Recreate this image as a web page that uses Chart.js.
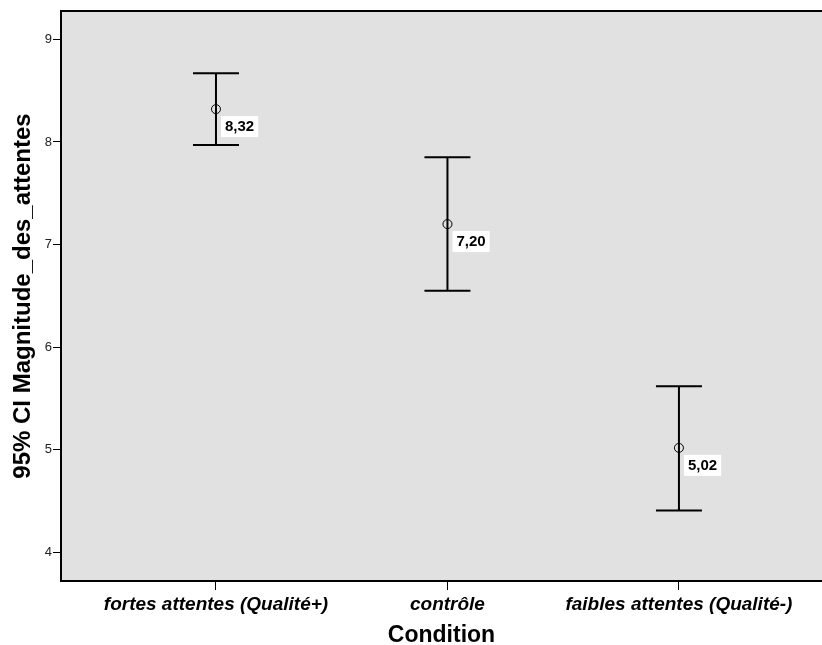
<!DOCTYPE html>
<html>
<head>
<meta charset="utf-8">
<script src="https://cdn.jsdelivr.net/npm/chart.js@4/dist/chart.umd.min.js"></script>
<style>
  html, body { margin: 0; padding: 0; background: #fff; overflow: hidden; }
</style>
</head>
<body>
<canvas id="ciChart" width="822" height="645"></canvas>
<script>
// data
const categories = ['fortes attentes (Qualité+)', 'contrôle', 'faibles attentes (Qualité-)'];
const means = [8.32, 7.20, 5.02];
const lowerCI = [7.97, 6.55, 4.41];
const upperCI = [8.67, 7.85, 5.62];
const meanLabels = ['8,32', '7,20', '5,02'];
const yTicks = [4, 5, 6, 7, 8, 9];

const FONT = '"Liberation Sans", Arial, sans-serif';

// grey plot background + top frame line
const frame = {
  id: 'frame',
  beforeDraw(chart) {
    const { ctx, chartArea: a } = chart;
    ctx.save();
    ctx.fillStyle = '#e1e1e1';
    ctx.fillRect(a.left, a.top, a.right - a.left, a.bottom - a.top);
    ctx.strokeStyle = '#000';
    ctx.lineWidth = 2;
    ctx.beginPath();
    ctx.moveTo(a.left, a.top);
    ctx.lineTo(a.right, a.top);
    ctx.stroke();
    ctx.restore();
  }
};

// whiskers and caps for the 95% CI
const errorBars = {
  id: 'errorBars',
  beforeDatasetsDraw(chart) {
    const { ctx, scales: { x, y } } = chart;
    ctx.save();
    ctx.strokeStyle = '#000';
    ctx.lineWidth = 2;
    categories.forEach((c, i) => {
      const px = x.getPixelForValue(i);
      const lo = y.getPixelForValue(lowerCI[i]);
      const hi = y.getPixelForValue(upperCI[i]);
      ctx.beginPath();
      ctx.moveTo(px, lo);
      ctx.lineTo(px, hi);
      ctx.moveTo(px - 23, hi);
      ctx.lineTo(px + 23, hi);
      ctx.moveTo(px - 23, lo);
      ctx.lineTo(px + 23, lo);
      ctx.stroke();
    });
    ctx.restore();
  }
};

// white value boxes next to the means
const valueLabels = {
  id: 'valueLabels',
  afterDatasetsDraw(chart) {
    const { ctx, scales: { x, y } } = chart;
    ctx.save();
    ctx.font = 'bold 15px ' + FONT;
    ctx.textBaseline = 'middle';
    meanLabels.forEach((txt, i) => {
      const px = x.getPixelForValue(i);
      const py = y.getPixelForValue(means[i]);
      const w = ctx.measureText(txt).width + 8;
      const h = 21;
      const bx = px + 5;
      const by = py + 17.5 - h / 2;
      ctx.fillStyle = '#fff';
      ctx.fillRect(bx, by, w, h);
      ctx.fillStyle = '#000';
      ctx.fillText(txt, bx + 4, py + 18);
    });
    ctx.restore();
  }
};

new Chart(document.getElementById('ciChart'), {
  type: 'scatter',
  data: {
    datasets: [{
      data: means.map((m, i) => ({ x: i, y: m })),
      pointStyle: 'circle',
      pointRadius: 4.5,
      pointHoverRadius: 4.5,
      borderColor: '#000',
      borderWidth: 1,
      backgroundColor: 'rgba(0,0,0,0)',
      showLine: false
    }]
  },
  options: {
    responsive: false,
    animation: false,
    devicePixelRatio: 1,
    layout: { autoPadding: false, padding: { top: 11, left: 0, right: 0, bottom: 0 } },
    plugins: {
      legend: { display: false },
      tooltip: { enabled: false }
    },
    scales: {
      x: {
        type: 'linear',
        min: -0.6695,
        max: 2.618,
        afterFit(scale) { scale.height = 64; },
        afterBuildTicks(scale) { scale.ticks = categories.map((c, i) => ({ value: i })); },
        border: { display: true, color: '#000', width: 2 },
        grid: { drawOnChartArea: false, color: '#000', lineWidth: 1, tickLength: 9 },
        ticks: {
          autoSkip: false,
          maxRotation: 0,
          padding: 3,
          color: '#000',
          font: { family: FONT, size: 19, weight: 'bold', style: 'italic' },
          callback: (v) => categories[v]
        },
        title: {
          display: true,
          text: 'Condition',
          color: '#000',
          font: { family: FONT, size: 23, weight: 'bold', lineHeight: 1 },
          padding: { top: 0, bottom: -2 }
        }
      },
      y: {
        type: 'linear',
        min: 3.723,
        max: 9.276,
        afterFit(scale) { scale.width = 61; },
        afterBuildTicks(scale) { scale.ticks = yTicks.map(v => ({ value: v })); },
        border: { display: true, color: '#000', width: 2 },
        grid: { drawOnChartArea: false, color: '#000', lineWidth: 1, tickLength: 8 },
        ticks: {
          padding: 1,
          color: '#222',
          font: { family: FONT, size: 13 },
          callback: (v) => String(v)
        },
        title: {
          display: true,
          text: '95% CI Magnitude_des_attentes',
          color: '#000',
          font: { family: FONT, size: 24, weight: 'bold' },
          padding: { top: 9, bottom: 0 }
        }
      }
    }
  },
  plugins: [frame, errorBars, valueLabels]
});
</script>
</body>
</html>
